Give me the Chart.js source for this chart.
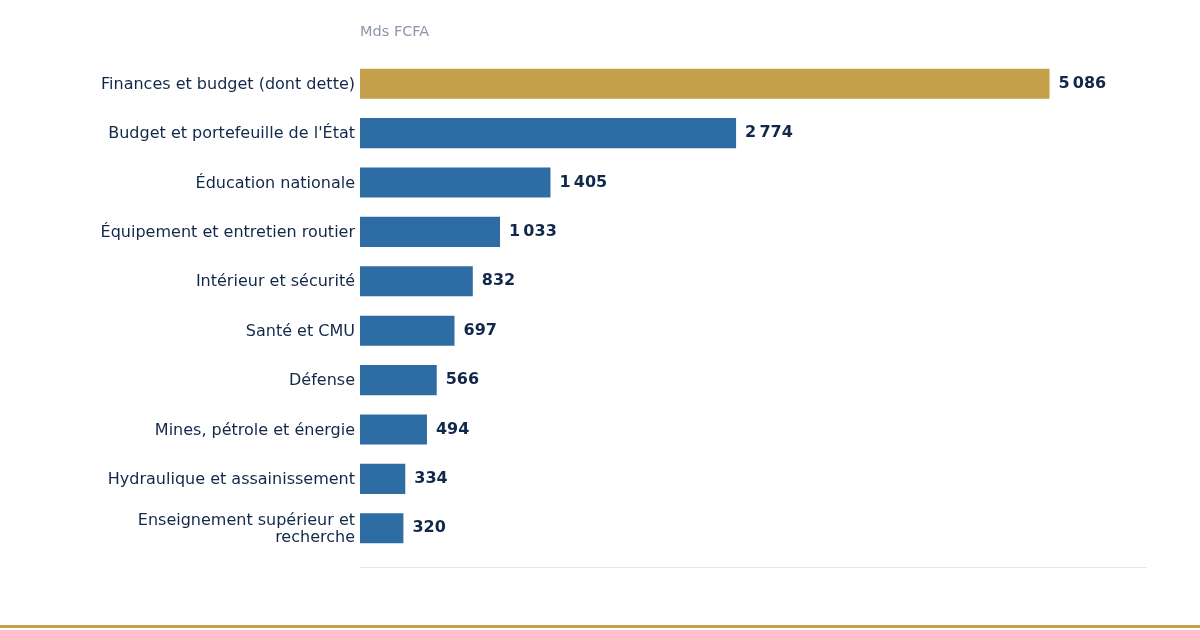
<!DOCTYPE html>
<html>
<head>
<meta charset="utf-8">
<script src="https://cdn.jsdelivr.net/npm/chart.js@4"></script>
<style>
  html, body { margin: 0; padding: 0; background: #fff; }
  canvas { display: block; }
</style>
</head>
<body>
<canvas id="chart" width="1200" height="630"></canvas>
<script>
const categories = [
  "Finances et budget (dont dette)",
  "Budget et portefeuille de l'État",
  "Éducation nationale",
  "Équipement et entretien routier",
  "Intérieur et sécurité",
  "Santé et CMU",
  "Défense",
  "Mines, pétrole et énergie",
  "Hydraulique et assainissement",
  ["Enseignement supérieur et", "recherche"]
];
const values = [5086, 2774, 1405, 1033, 832, 697, 566, 494, 334, 320];
const unitLabel = "Mds FCFA";

const gold = "#c4a04a";
const blue = "#2e6da4";
const navy = "#12284a";

function fmt(v) {
  return String(v).replace(/\B(?=(\d{3})+(?!\d))/g, "\u202f");
}

const extras = {
  id: "extras",
  afterDatasetsDraw(chart) {
    const { ctx, chartArea } = chart;
    const meta = chart.getDatasetMeta(0);
    ctx.save();
    ctx.font = "bold 16px 'DejaVu Sans'";
    ctx.fillStyle = navy;
    ctx.textBaseline = "middle";
    ctx.textAlign = "left";
    meta.data.forEach((bar, i) => {
      ctx.fillText(fmt(values[i]), bar.x + 9, bar.y);
    });
    // unit label
    ctx.font = "14.5px 'DejaVu Sans'";
    ctx.fillStyle = "#8d96a8";
    ctx.fillText(unitLabel, chartArea.left, 32);
    // baseline
    ctx.fillStyle = "#e6e6e6";
    ctx.fillRect(chartArea.left, chartArea.bottom + 14, chartArea.right - chartArea.left, 1);
    // bottom gold rule
    ctx.fillStyle = gold;
    ctx.fillRect(0, chart.height - 5, chart.width, 3);
    ctx.restore();
  }
};

new Chart(document.getElementById("chart"), {
  type: "bar",
  data: {
    labels: categories,
    datasets: [{
      data: values,
      backgroundColor: values.map((v, i) => i === 0 ? gold : blue),
      barPercentage: 0.61,
      categoryPercentage: 1
    }]
  },
  options: {
    indexAxis: "y",
    responsive: false,
    animation: false,
    devicePixelRatio: 1,
    layout: { padding: { top: 59, right: 53, bottom: 77, left: 0 } },
    plugins: {
      legend: { display: false },
      tooltip: { enabled: false }
    },
    scales: {
      x: {
        display: false,
        min: 0,
        max: 5805
      },
      y: {
        grid: { display: false, drawTicks: false },
        border: { display: false },
        afterFit(scale) { scale.width = 360; },
        ticks: {
          padding: 5,
          labelOffset: 1,
          color: navy,
          font: { family: "'DejaVu Sans'", size: 16, lineHeight: 1.06 }
        }
      }
    }
  },
  plugins: [extras]
});
</script>
</body>
</html>
